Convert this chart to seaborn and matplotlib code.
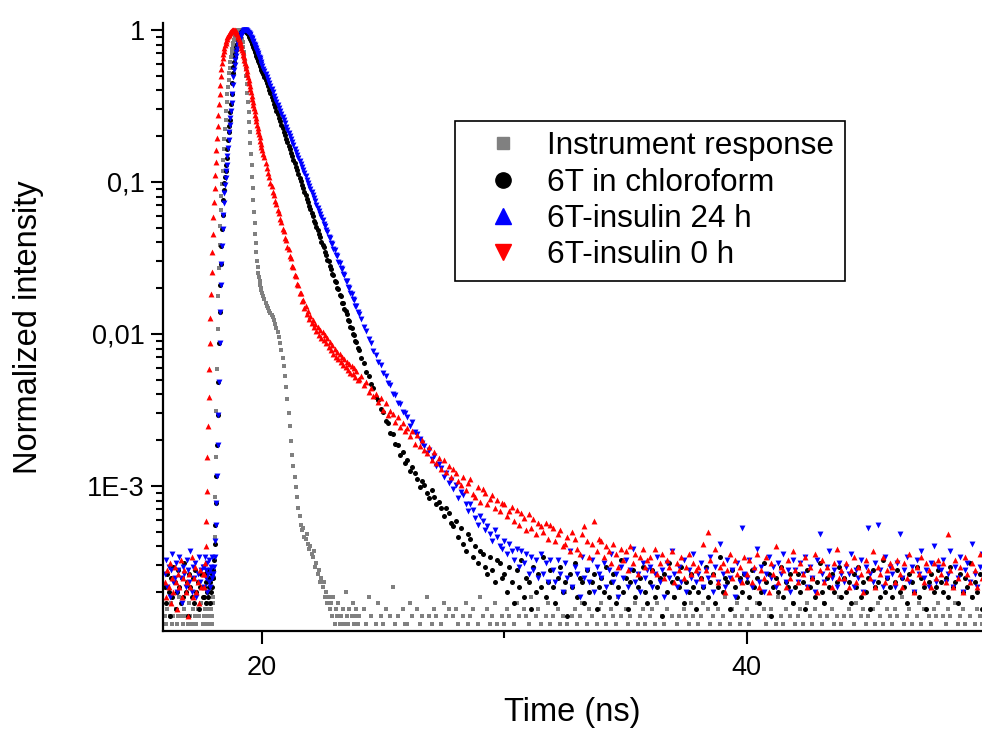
import numpy as np
import pandas as pd
import seaborn as sns
import matplotlib.pyplot as plt
from matplotlib.lines import Line2D
from matplotlib.ticker import (MultipleLocator, LogLocator, FuncFormatter,
                               NullFormatter)

# TCSPC photon counts.  Four channel blocks:
# 16.0-17.55 ns every 0.05, 17.6-19.975 every 0.025,
# 20.0-23.95 every 0.05, 24.0-49.9 every 0.1
labels = ['Instrument response', '6T in chloroform',
          '6T-insulin 24 h', '6T-insulin 0 h']

# --- instrument response (grey squares)
irf_pre = [9, 8, 10, 7, 9, 11, 8, 9, 6, 10, 8, 9, 12, 7, 9, 8,
           10, 9, 7, 8, 11, 9, 8, 10, 6, 9, 8, 10, 9, 7, 11, 8]
irf_rise = [9, 8, 10, 7, 9, 8, 11, 9,
            8, 10, 9, 7, 10, 8, 9, 11,
            12, 16, 30, 55, 100, 200, 380, 700,
            1150, 1750, 2500, 3300, 4200, 5200, 6300, 7600,
            9000, 10600, 12400, 14400, 16600, 19000, 21600, 24400,
            27300, 30300, 33400, 36500, 39600, 42600, 45500, 48300,
            50900, 53300, 55500, 57500, 59300, 60800, 62100, 63100,
            63900, 64400, 64700, 64400, 63500, 61800, 59300, 56000,
            53500, 50000, 46500, 43000, 39500, 35800, 32000, 28300,
            24800, 21600, 18700, 16100, 13800, 11700, 9900, 8300,
            7000, 5900, 4900, 4100, 3450, 2950, 2550, 2220,
            1960, 1770, 1630, 1520, 1430, 1360, 1300, 1250]
irf_decay = [1200, 1150, 1090, 1030, 985, 950, 915, 885, 860, 830,
             795, 755, 710, 665, 615, 560, 505, 450, 395, 340,
             290, 240, 195, 160, 128, 104, 88, 74, 64, 55,
             46, 41, 36, 33, 34, 30, 29, 31, 27, 25,
             26, 23, 22, 24, 19, 20, 17, 18, 15, 16,
             14, 15, 12, 13, 11, 12, 10, 11, 9, 12,
             8, 10, 9, 11, 8, 9, 7, 10, 8, 13,
             9, 8, 10, 7, 9, 11, 8, 9, 10, 8]
irf_tail = [9, 7, 10, 8, 12, 9, 6, 8, 11, 9, 8, 10, 7, 9, 14, 8, 9, 6, 10, 8,
            8, 11, 9, 7, 10, 8, 9, 6, 12, 9, 8, 10, 9, 7, 8, 11, 9, 10, 6, 9,
            10, 8, 7, 9, 11, 8, 9, 10, 6, 8, 12, 9, 7, 10, 8, 9, 11, 8, 7, 9,
            8, 10, 9, 6, 8, 11, 9, 7, 10, 9, 8, 12, 6, 9, 10, 8, 7, 9, 11, 8,
            9, 7, 10, 8, 9, 13, 8, 6, 9, 10, 8, 9, 11, 7, 8, 10, 9, 6, 8, 10,
            11, 9, 8, 7, 10, 9, 8, 12, 9, 6, 10, 8, 9, 7, 11, 8, 9, 10, 8, 7,
            9, 10, 8, 11, 7, 9, 8, 10, 6, 9, 12, 8, 9, 7, 10, 9, 8, 11, 9, 6,
            8, 9, 11, 7, 10, 8, 9, 6, 10, 8, 9, 12, 7, 8, 10, 9, 11, 8, 9, 7,
            10, 8, 9, 7, 11, 9, 6, 10, 8, 9, 10, 7, 8, 12, 9, 8, 10, 6, 9, 11,
            8, 9, 10, 8, 7, 11, 9, 8, 10, 6, 9, 8, 11, 9, 7, 10, 8, 9, 12, 8,
            9, 7, 10, 9, 8, 11, 6, 9, 10, 8, 9, 7, 10, 8, 11, 9, 8, 6, 10, 9,
            8, 10, 9, 7, 12, 8, 9, 10, 8, 6, 9, 11, 8, 10, 7, 9, 8, 10, 9, 11,
            7, 9, 8, 10, 9, 6, 11, 8, 9, 10, 8, 7, 9, 12, 8, 10, 9, 8, 7, 9]

# --- 6T in chloroform (black circles)
cf_pre = [14, 11, 17, 13, 9, 16, 12, 19, 15, 10, 13, 18, 14, 11, 16, 12,
          20, 13, 15, 9, 17, 14, 12, 16, 11, 18, 13, 15, 10, 14, 17, 12]
cf_rise = [14, 12, 17, 11, 15, 13, 18, 12,
           14, 16, 11, 15, 13, 17, 14, 16,
           18, 21, 27, 36, 50, 75, 120, 190,
           310, 560, 900, 1350, 1850, 2450, 3150, 3900,
           4900, 5700, 6400, 7000, 7600, 8300, 9300, 10600,
           12200, 13700, 15100, 16500, 18500, 21000, 24500, 29000,
           33500, 37000, 40000, 42800, 45200, 47600, 49900, 52000,
           54000, 55900, 57700, 59300, 60800, 62000, 63000, 63800,
           64400, 64700, 64600, 64400, 64000, 63500, 62900, 62200,
           61400, 60500, 59500, 58400, 57300, 56100, 54900, 53700,
           52400, 51100, 49800, 48500, 47200, 46000, 44800, 43600,
           42500, 41400, 40300, 39200, 38200, 37200, 36200, 35200]
cf_decay = [34300, 33000, 31700, 30300, 28900, 27500, 26100, 24800, 23500, 22300,
            21100, 20000, 19000, 18000, 17100, 16200, 15300, 14600, 13800, 13100,
            12400, 11800, 11100, 10600, 10000, 9500, 9000, 8550, 8100, 7700,
            7300, 6900, 6540, 6200, 5880, 5570, 5280, 5010, 4750, 4500,
            4300, 4010, 3860, 3600, 3470, 3250, 3120, 2920, 2800, 2620,
            2480, 2400, 2230, 2150, 1990, 1940, 1800, 1740, 1610, 1570,
            1450, 1410, 1300, 1270, 1160, 1140, 1040, 1030, 940, 920,
            875, 800, 785, 720, 705, 645, 635, 580, 570, 520]
cf_tail = [510, 448, 418, 365, 344, 301, 286, 249, 238, 207, 199, 173, 168, 144, 141, 122, 121, 104, 108, 92,
           95, 81, 86, 79, 72, 64, 70, 66, 58, 54, 61, 55, 49, 51, 46, 41, 46, 43, 37, 35,
           38, 30, 34, 27, 24, 31, 29, 22, 26, 20, 24, 23, 19, 17, 22, 18, 15, 21, 20, 16,
           17, 13, 19, 15, 11, 18, 14, 21, 12, 16, 15, 10, 19, 13, 17, 14, 22, 12, 15, 18,
           14, 11, 16, 19, 13, 15, 9, 17, 14, 20, 12, 16, 15, 11, 18, 13, 15, 17, 10, 14,
           16, 13, 19, 12, 15, 17, 11, 14, 21, 13, 16, 10, 15, 18, 12, 14, 16, 19, 13, 11,
           15, 18, 12, 14, 16, 9, 17, 13, 20, 15, 12, 16, 14, 19, 11, 15, 13, 17, 14, 10,
           13, 16, 14, 19, 12, 15, 17, 11, 14, 22, 13, 16, 15, 10, 18, 14, 12, 16, 13, 17,
           15, 12, 18, 14, 16, 11, 13, 20, 15, 17, 9, 14, 16, 13, 19, 12, 15, 14, 17, 11,
           14, 17, 13, 15, 10, 18, 14, 16, 12, 15, 20, 13, 11, 16, 14, 17, 13, 15, 19, 12,
           16, 13, 15, 11, 17, 14, 19, 12, 15, 13, 16, 10, 18, 14, 15, 12, 21, 13, 16, 14,
           12, 15, 18, 13, 16, 14, 11, 17, 15, 13, 19, 12, 16, 14, 10, 15, 17, 13, 14, 18,
           15, 13, 16, 12, 19, 14, 15, 11, 17, 13, 16, 14, 20, 12, 15, 13, 17, 10, 14, 16]

# --- 6T-insulin 24 h (blue)
h24_pre = [17, 21, 14, 19, 12, 18, 23, 15, 16, 20, 13, 18, 22, 16, 11, 19,
           17, 14, 21, 18, 15, 24, 13, 19, 16, 20, 12, 17, 22, 15, 18, 19]
h24_rise = [19, 14, 22, 16, 18, 13, 20, 17,
            15, 21, 18, 14, 19, 16, 22, 17,
            17, 19, 22, 28, 36, 50, 75, 120,
            190, 310, 560, 900, 1350, 1850, 2450, 3150,
            3900, 4700, 5500, 6200, 6900, 7600, 8400, 9500,
            10800, 12200, 13700, 15200, 17000, 19000, 21500, 24500,
            28000, 31500, 35000, 38200, 41000, 43600, 46000, 48300,
            50400, 52400, 54300, 56100, 57800, 59300, 60700, 61900,
            62900, 63700, 64200, 64600, 64700, 64600, 64300, 63900,
            63400, 62800, 62100, 61300, 60400, 59400, 58400, 57300,
            56200, 55000, 53800, 52600, 51400, 50200, 49000, 47800,
            46600, 45400, 44200, 43100, 42000, 40900, 39800, 38800]
h24_decay = [37600, 36000, 34600, 33200, 31800, 30300, 28900, 27600, 26300, 25100,
             23900, 22800, 21800, 20800, 19800, 18900, 18000, 17200, 16400, 15700,
             14900, 14200, 13600, 13000, 12400, 11800, 11300, 10700, 10200, 9770,
             9320, 8890, 8480, 8090, 7710, 7360, 7020, 6700, 6390, 6090,
             5810, 5540, 5290, 5040, 4810, 4590, 4380, 4180, 3980, 3800,
             3650, 3420, 3330, 3110, 3040, 2820, 2760, 2570, 2520, 2340,
             2290, 2130, 2090, 1930, 1900, 1760, 1730, 1600, 1580, 1450,
             1440, 1320, 1300, 1200, 1190, 1090, 1080, 990, 985, 900]
h24_tail = [870, 815, 722, 676, 598, 561, 497, 472, 421, 402, 358, 344, 306, 296, 262, 258, 227, 223, 198, 194,
            184, 161, 170, 146, 141, 132, 124, 118, 106, 112, 97, 101, 88, 90, 85, 74, 79, 68, 71, 62,
            66, 54, 59, 56, 49, 44, 49, 45, 40, 36, 41, 38, 33, 35, 31, 28, 33, 30, 26, 25,
            28, 23, 27, 24, 21, 25, 19, 24, 20, 23, 17, 22, 18, 21, 16, 23, 17, 20, 15, 21,
            18, 15, 21, 17, 13, 20, 16, 24, 14, 19, 17, 12, 22, 16, 18, 15, 21, 13, 19, 17,
            16, 20, 14, 18, 23, 15, 17, 12, 19, 16, 21, 14, 18, 25, 15, 17, 13, 20, 16, 18,
            19, 14, 17, 22, 15, 18, 12, 20, 16, 24, 17, 14, 19, 15, 21, 13, 18, 16, 23, 15,
            17, 20, 14, 18, 16, 22, 13, 19, 15, 27, 17, 14, 21, 16, 18, 12, 20, 15, 34, 17,
            16, 21, 14, 18, 25, 15, 19, 13, 17, 22, 16, 19, 14, 20, 17, 23, 15, 18, 13, 21,
            18, 15, 20, 17, 22, 14, 19, 16, 13, 21, 31, 17, 15, 19, 24, 16, 18, 14, 20, 17,
            15, 19, 17, 23, 14, 18, 16, 21, 13, 19, 34, 17, 15, 20, 36, 18, 14, 22, 16, 19,
            17, 14, 20, 31, 16, 18, 22, 15, 19, 13, 21, 17, 24, 16, 18, 14, 20, 26, 15, 19,
            18, 21, 15, 17, 24, 14, 19, 16, 22, 13, 18, 20, 15, 27, 17, 14, 19, 23, 16, 18]

# --- 6T-insulin 0 h (red)
h0_pre = [15, 12, 18, 14, 20, 11, 16, 13, 19, 15, 10, 17, 14, 21, 12, 16,
          18, 13, 15, 9, 17, 14, 22, 12, 16, 19, 13, 15, 11, 18, 14, 17]
h0_rise = [14, 17, 20, 26, 38, 60, 100, 160,
           250, 380, 560, 820, 1180, 1650, 2250, 2950,
           3800, 4800, 5900, 7200, 8700, 10500, 12600, 15000,
           17800, 21000, 24500, 28200, 32000, 35500, 39000, 42000,
           44800, 47200, 49500, 51500, 53300, 55000, 56500, 57900,
           59100, 60200, 61200, 62000, 62700, 63300, 63800, 64200,
           64400, 64650, 64700, 64500, 64000, 63100, 62000, 60700,
           59300, 57800, 56200, 54600, 52900, 51200, 49500, 47800,
           46100, 44400, 42700, 41000, 39400, 37800, 36200, 34700,
           33200, 31700, 30300, 28900, 27600, 26300, 25100, 23900,
           22800, 21700, 20700, 19700, 18800, 17900, 17000, 16200,
           15400, 14700, 14000, 13300, 12700, 12100, 11500, 11000]
h0_decay = [10500, 9850, 9400, 8560, 8010, 7350, 6980, 6400, 6090, 5570,
            5300, 4840, 4620, 4200, 4040, 3660, 3520, 3190, 3070, 2770,
            2680, 2400, 2330, 2090, 2040, 1810, 1780, 1580, 1550, 1370,
            1350, 1200, 1210, 1070, 1080, 960, 985, 880, 910, 815,
            845, 760, 795, 720, 750, 680, 715, 640, 690, 610,
            665, 590, 640, 560, 605, 530, 570, 505, 545, 475,
            515, 455, 495, 440, 475, 420, 455, 405, 440, 390,
            420, 375, 410, 360, 395, 350, 385, 335, 370, 320]
h0_tail = [325, 342, 296, 310, 268, 284, 251, 262, 229, 243, 205, 226, 189, 201, 193, 170, 184, 158, 167, 149,
           155, 137, 148, 122, 140, 118, 129, 111, 106, 117, 96, 108, 92, 99, 84, 95, 80, 88, 74, 83,
           79, 70, 66, 74, 61, 68, 72, 57, 55, 64, 51, 62, 58, 49, 53, 56, 46, 52, 44, 50,
           49, 41, 44, 47, 38, 45, 36, 43, 40, 33, 42, 34, 39, 31, 37, 35, 32, 37, 29, 36,
           34, 28, 31, 33, 26, 27, 30, 24, 32, 29, 25, 23, 31, 35, 28, 22, 27, 38, 24, 29,
           28, 22, 26, 24, 20, 27, 23, 19, 25, 21, 24, 18, 26, 20, 23, 17, 22, 25, 19, 21,
           22, 18, 25, 17, 20, 23, 16, 21, 19, 24, 15, 20, 18, 22, 16, 19, 23, 17, 20, 18,
           19, 16, 27, 18, 32, 21, 17, 25, 15, 19, 20, 13, 18, 23, 16, 21, 17, 19, 15, 22,
           17, 21, 15, 19, 23, 14, 18, 16, 22, 13, 20, 17, 26, 15, 19, 18, 14, 21, 16, 24,
           18, 15, 20, 17, 22, 14, 19, 16, 23, 13, 18, 21, 15, 19, 17, 14, 20, 25, 16, 18,
           16, 20, 14, 18, 22, 15, 19, 17, 13, 21, 18, 16, 24, 14, 19, 17, 22, 15, 18, 20,
           19, 15, 21, 17, 14, 20, 16, 23, 18, 13, 19, 17, 22, 15, 20, 18, 14, 20, 16, 21,
           17, 20, 15, 31, 18, 14, 21, 16, 19, 13, 22, 17, 15, 20, 18, 14, 23, 16, 19, 17]

series = {
    labels[0]: (irf_pre, irf_rise, irf_decay, irf_tail),
    labels[1]: (cf_pre, cf_rise, cf_decay, cf_tail),
    labels[2]: (h24_pre, h24_rise, h24_decay, h24_tail),
    labels[3]: (h0_pre, h0_rise, h0_decay, h0_tail),
}


def channel_times(pre, rise, decay, tail):
    return np.concatenate([
        16.0 + 0.05 * np.arange(len(pre)),
        17.6 + 0.025 * np.arange(len(rise)),
        20.0 + 0.05 * np.arange(len(decay)),
        24.0 + 0.1 * np.arange(len(tail)),
    ])


def y_label(v, pos):
    names = {0: '1', -1: '0,1', -2: '0,01', -3: '1E-3', -4: '1E-4'}
    return names.get(int(round(np.log10(v))), '')


def main():
    frames = []
    for name, parts in series.items():
        counts = np.concatenate([np.asarray(p, dtype=float) for p in parts])
        frames.append(pd.DataFrame({
            'time': channel_times(*parts),
            'intensity': counts / counts.max(),
            'sample': name,
        }))
    df = pd.concat(frames, ignore_index=True)

    sns.set_style('ticks')
    plt.rcParams['font.family'] = ['Liberation Sans', 'DejaVu Sans']
    for key in ['text.color', 'axes.labelcolor', 'xtick.color', 'ytick.color',
                'axes.edgecolor']:
        plt.rcParams[key] = 'black'

    fig = plt.figure(figsize=(9.82, 7.33), dpi=100)
    ax = fig.add_axes([0.166, 0.1392, 0.834, 0.8295])

    # drawn in this order, red on top
    styles = {
        labels[0]: dict(color='#808080', marker='s', s=11),
        labels[1]: dict(color='black', marker='o', s=13),
        labels[2]: dict(color='#0000ff', marker='v', s=18),
        labels[3]: dict(color='#ff0000', marker='^', s=18),
    }
    for name, st in styles.items():
        sns.scatterplot(data=df[df['sample'] == name], x='time', y='intensity',
                        ax=ax, linewidth=0, legend=False, **st)

    ax.set_yscale('log')
    ax.set_xlim(15.92, 49.7)
    ax.set_ylim(1.11e-4, 1.11)

    ax.xaxis.set_major_locator(MultipleLocator(20))
    ax.xaxis.set_minor_locator(MultipleLocator(10))
    ax.yaxis.set_major_locator(LogLocator(base=10, numticks=10))
    ax.yaxis.set_minor_locator(LogLocator(base=10, subs=np.arange(2, 10), numticks=40))
    ax.yaxis.set_major_formatter(FuncFormatter(y_label))
    ax.yaxis.set_minor_formatter(NullFormatter())

    ax.tick_params(which='major', direction='out', length=9, width=1.5,
                   labelsize=19.5, color='black', labelcolor='black', pad=4)
    ax.tick_params(which='minor', direction='out', length=5, width=1.5,
                   color='black')
    ax.tick_params(axis='x', which='major', pad=8)

    for side in ['top', 'right']:
        ax.spines[side].set_visible(False)
    for side in ['left', 'bottom']:
        ax.spines[side].set_linewidth(1.6)
        ax.spines[side].set_color('black')

    ax.set_xlabel('Time (ns)', fontsize=23.5, labelpad=12, color='black')
    ax.set_ylabel('Normalized intensity', fontsize=23.5, color='black')
    ax.yaxis.set_label_coords(-0.145, 0.5)

    # legend markers as drawn in the original legend
    handles = [
        Line2D([], [], ls='none', marker='s', color='#808080', markersize=9),
        Line2D([], [], ls='none', marker='o', color='black', markersize=11),
        Line2D([], [], ls='none', marker='^', color='#0000ff', markersize=12),
        Line2D([], [], ls='none', marker='v', color='#ff0000', markersize=12),
    ]
    leg = ax.legend(handles, labels, loc='upper left',
                    bbox_to_anchor=(0.3565, 0.839), borderaxespad=0,
                    fontsize=22.7, frameon=True, fancybox=False,
                    edgecolor='black', framealpha=1, borderpad=0.33,
                    handlelength=2.4, handletextpad=0.2, labelspacing=0.2)
    leg.get_frame().set_linewidth(1.2)
    for txt in leg.get_texts():
        txt.set_color('black')

    fig.savefig('out.png', dpi=100)


if __name__ == '__main__':
    main()
